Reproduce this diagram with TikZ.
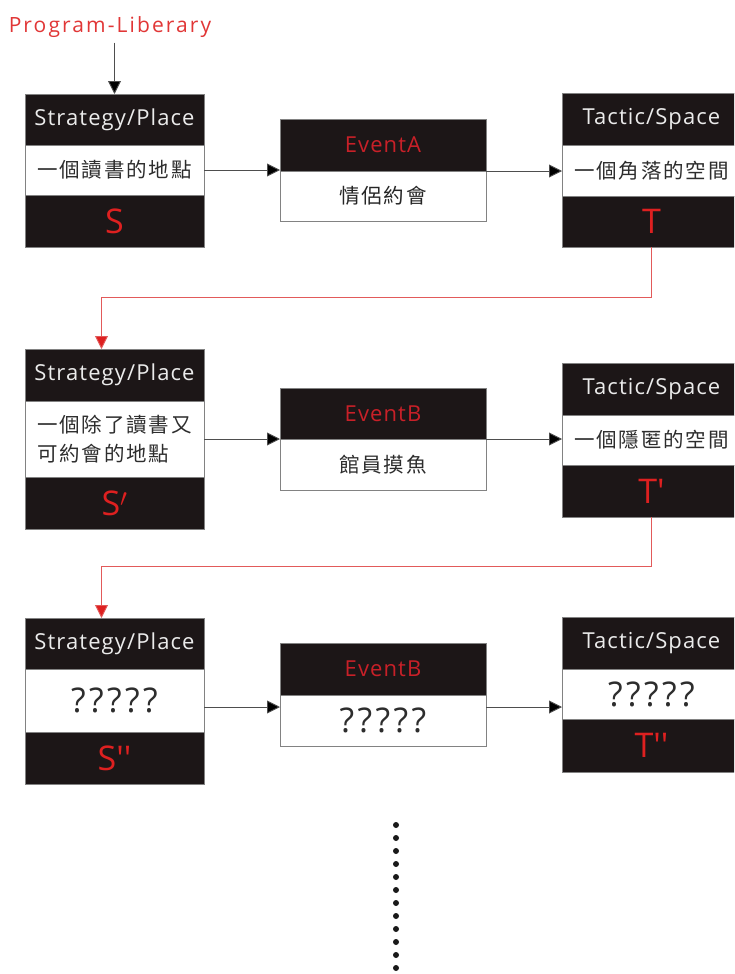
\documentclass[tikz,border=0pt]{standalone}
\usepackage{fontspec}
\setmainfont{Open Sans}
\newfontfamily\cjk{Noto Sans CJK TC}[LetterSpace=9]
\newfontfamily\plainsans{Open Sans}[Ligatures=TeXOff]
\usetikzlibrary{arrows.meta,positioning}
\definecolor{boxblack}{RGB}{28,22,23}
\definecolor{edgegray}{RGB}{130,130,130}
\definecolor{brightred}{RGB}{222,32,32}
\definecolor{evred}{RGB}{200,32,40}
\definecolor{linered}{RGB}{226,90,90}
\definecolor{textgray}{RGB}{45,45,45}
\tikzset{
  part/.style={draw=edgegray, line width=0.8pt, inner sep=0pt, outer sep=0pt,
    anchor=north west, minimum width=179pt, align=center},
  hdr/.style={part, fill=boxblack, text=white!92!black, font=\addfontfeatures{LetterSpace=5}\fontsize{22}{24}\selectfont},
  evhdr/.style={part, fill=boxblack, text=evred, minimum width=206pt, font=\addfontfeatures{LetterSpace=5}\fontsize{22}{24}\selectfont},
  body/.style={part, fill=white, text=textgray, font=\cjk\fontsize{20.5}{29}\selectfont},
  evbody/.style={body, minimum width=206pt},
  qbody/.style={part, fill=white, text=textgray, font=\addfontfeatures{LetterSpace=10}\fontsize{34}{36}\selectfont},
  qevbody/.style={qbody, minimum width=206pt},
  letter/.style={part, fill=boxblack, text=brightred, font=\plainsans\fontsize{34}{36}\selectfont},
  arr/.style={draw=edgegray!60!black, line width=0.9pt, -{Triangle[length=13pt,width=13pt,fill=black]}},
  redarr/.style={draw=linered, line width=0.9pt, -{Triangle[length=13pt,width=13pt,fill=brightred]}},
}
\begin{document}
\begin{tikzpicture}[x=1pt,y=-1pt]
\clip (0,0) rectangle (734,974);
\fill[white] (0,0) rectangle (734,974);

% title
\node[text=brightred!90!white, font=\addfontfeatures{LetterSpace=10}\fontsize{21}{22}\selectfont, inner sep=1pt] (prog) at (110,27) {Program-Liberary};

% ---------- row 1 ----------
\node[hdr, minimum height=51pt] (s1h) at (25,94) {Strategy/Place};
\node[body, minimum height=50pt] (s1m) at (25,145) {一個讀書的地點};
\node[letter, minimum height=52pt] (s1b) at (25,195) {S};

\node[evhdr, minimum height=52pt] (e1h) at (280,119) {EventA};
\node[evbody, minimum height=50pt, text=black!85] (e1b) at (280,171) {情侶約會};

\node[hdr, minimum height=52pt] (t1h) at (562,93) {Tactic/Space};
\node[body, minimum height=51pt] (t1m) at (562,145) {一個角落的空間};
\node[letter, minimum height=51pt] (t1b) at (562,196) {T};

\draw[arr] (s1h.north |- prog.south) ++(0,4) -- (s1h.north);
\draw[arr] (s1m.east) -- (s1m.east -| e1b.north west);
\draw[arr] (e1b.north east) -- (e1b.north east -| t1m.west);

% ---------- row 2 ----------
\node[hdr, minimum height=52pt] (s2h) at (25,349) {Strategy/Place};
\node[body, minimum height=76pt, align=left] (s2m) at (25,401) {一個除了讀書又\\可約會的地點};
\node[letter, minimum height=52pt] (s2b) at (25,477) {S$'$};

\node[evhdr, minimum height=51pt] (e2h) at (280,388) {EventB};
\node[evbody, minimum height=51pt] (e2b) at (280,439) {館員摸魚};

\node[hdr, minimum height=52pt] (t2h) at (562,363) {Tactic/Space};
\node[body, minimum height=50pt] (t2m) at (562,415) {一個隱匿的空間};
\node[letter, minimum height=52pt] (t2b) at (562,465) {T'};

\draw[redarr] (t1b.south) -- ++(0,50) -| ([xshift=-13pt]s2h.north);
\draw[arr] (s2m.east) -- (s2m.east -| e2b.north west);
\draw[arr] (e2b.north east) -- (e2b.north east -| t2m.west);

% ---------- row 3 ----------
\node[hdr, minimum height=51pt] (s3h) at (25,618) {Strategy/Place};
\node[qbody, minimum height=63pt] (s3m) at (25,669) {?????};
\node[letter, minimum height=52pt] (s3b) at (25,732) {S''};

\node[evhdr, minimum height=52pt] (e3h) at (280,643) {EventB};
\node[qevbody, minimum height=51pt] (e3b) at (280,695) {?????};

\node[hdr, minimum height=52pt] (t3h) at (562,617) {Tactic/Space};
\node[qbody, minimum height=50pt] (t3m) at (562,669) {?????};
\node[letter, minimum height=53pt] (t3b) at (562,719) {T''};

\draw[redarr] (t2b.south) -- ++(0,49) -| ([xshift=-13pt]s3h.north);
\coordinate (r3) at (0,707);
\draw[arr] (s3m.east |- r3) -- (e3b.west |- r3);
\draw[arr] (e3b.east |- r3) -- (t3m.west |- r3);

% ---------- continuation dots ----------
\foreach \i in {0,...,11} \fill[black!90] (396,825+13*\i) circle (3pt);
\end{tikzpicture}
\end{document}
